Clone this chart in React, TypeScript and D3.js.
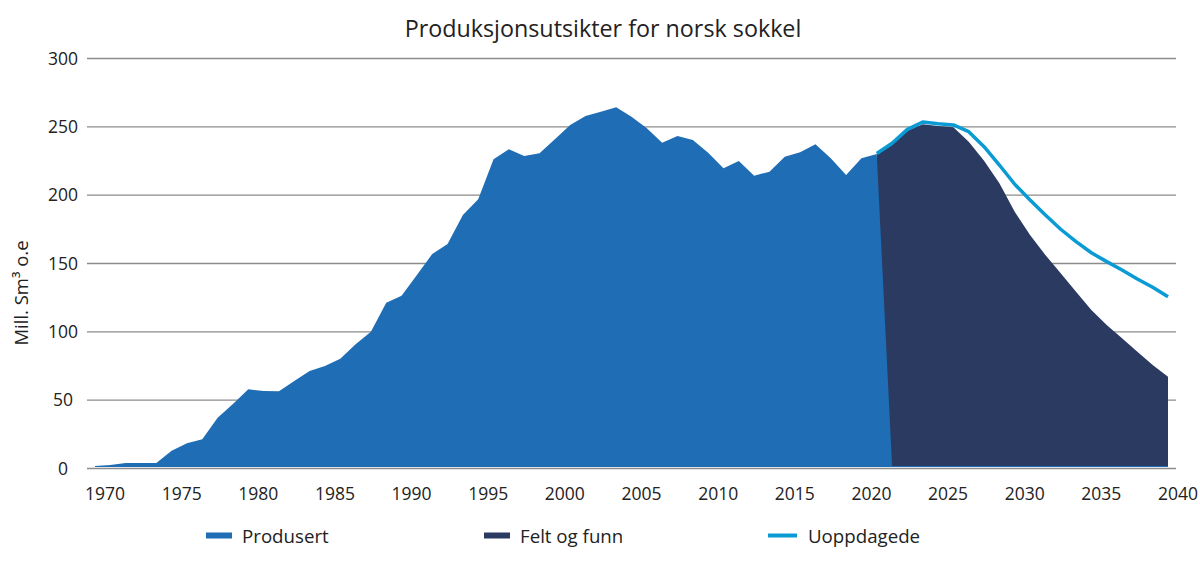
import React from "react";
import * as d3 from "d3";

const TITLE = "Produksjonsutsikter for norsk sokkel";
const Y_TITLE = "Mill. Sm³ o.e";
const X_TICKS = [1970, 1975, 1980, 1985, 1990, 1995, 2000, 2005, 2010, 2015, 2020, 2025, 2030, 2035, 2040];
const Y_TICKS = [0, 50, 100, 150, 200, 250, 300];
const SERIES_NAMES = ["Produsert", "Felt og funn", "Uoppdagede"];
const COLORS = ["#1F6DB5", "#2B3A61", "#0A9BD5"];

// Produsert 1970–2022
const PRODUCED_START = 1970;
const producedValues = [
  0.4, 1.1, 2.6, 2.6, 2.6, 11.6, 17.0, 19.9, 35.7, 45.7,
  56.5, 55.2, 55.0, 62.6, 69.9, 73.5, 78.9, 89.4, 98.6, 119.9,
  125.0, 140.1, 155.5, 162.8, 184.0, 195.5, 224.8, 232.1, 227.2, 229.2,
  239.4, 249.9, 256.5, 259.6, 262.8, 256.0, 247.5, 236.9, 241.8, 238.9,
  229.6, 218.2, 223.5, 212.8, 215.7, 226.7, 229.9, 235.8, 225.5, 213.3,
  225.5, 228.7, 0,
];

// Felt og funn 2021–2040
const FORECAST_START = 2021;
const feltOgFunnValues = [
  228.7, 235.2, 245.7, 250.4, 249.2, 248.2, 237.7, 223.8, 207.2, 186.4,
  169.4, 154.8, 141.4, 127.9, 114.5, 103.5, 93.8, 84.0, 74.3, 65.7,
];

// Uoppdagede (total incl. undiscovered) 2021–2040
const uoppdagedeValues = [
  229.0, 236.5, 246.7, 252.1, 250.8, 249.9, 245.0, 234.0, 220.6, 206.5,
  195.0, 184.0, 173.6, 164.5, 156.4, 149.9, 143.8, 137.2, 131.1, 124.2,
];

const W = 1200;
const H = 562;
const FONT = "'Open Sans', 'Noto Sans', sans-serif";

export default function App() {
  const x = d3.scaleLinear().domain([1970, 2040]).range([95, 1168]);
  const y = d3.scaleLinear().domain([0, 300]).range([468.5, 58.5]);

  const produced = producedValues.map((v, i) => ({ year: PRODUCED_START + i, v }));
  const felt = feltOgFunnValues.map((v, i) => ({ year: FORECAST_START + i, v }));
  const total = uoppdagedeValues.map((v, i) => ({ year: FORECAST_START + i, v }));

  const area = d3
    .area<{ year: number; v: number }>()
    .x((d) => x(d.year))
    .y0(y(0))
    .y1((d) => y(d.v));
  const line = d3
    .line<{ year: number; v: number }>()
    .x((d) => x(d.year))
    .y((d) => y(d.v));

  const gridX0 = 87;
  const gridX1 = 1176;

  return (
    <svg
      width={W}
      height={H}
      style={{ position: "absolute", left: 0, top: 0, display: "block", background: "#fff" }}
      fontFamily={FONT}
    >
      <text x={603} y={37} textAnchor="middle" fontSize={23.3} fill="#222">
        {TITLE}
      </text>

      {Y_TICKS.map((t) => (
        <g key={t}>
          <line x1={gridX0} x2={gridX1} y1={y(t)} y2={y(t)} stroke="#8C8C8C" strokeWidth={1.3} />
          <text x={63} y={y(t) - 1} textAnchor="middle" dominantBaseline="central" fontSize={17.5} fill="#222">
            {t}
          </text>
        </g>
      ))}

      <text
        transform={`translate(20,${293}) rotate(-90)`}
        textAnchor="middle"
        dominantBaseline="central"
        fontSize={18.5}
        fill="#222"
      >
        {Y_TITLE}
      </text>

      <g transform="translate(0,-2)">
        <path d={area(felt) || ""} fill={COLORS[1]} />
        <path d={area(produced) || ""} fill={COLORS[0]} />
        <line x1={x(1970)} x2={x(2040)} y1={y(0)} y2={y(0)} stroke={COLORS[0]} strokeWidth={1.2} />
        <path d={line(total) || ""} fill="none" stroke={COLORS[2]} strokeWidth={3.5} strokeLinejoin="round" />
      </g>

      {X_TICKS.map((t) => (
        <text key={t} x={x(t) + 10} y={500} textAnchor="middle" fontSize={17.5} fill="#222">
          {t}
        </text>
      ))}

      {/* legend */}
      <g fontSize={18.7} fill="#222">
        <rect x={206} y={532.5} width={26} height={6} fill={COLORS[0]} />
        <text x={242} y={535} dominantBaseline="central">{SERIES_NAMES[0]}</text>
        <rect x={484} y={532.5} width={26} height={6} fill={COLORS[1]} />
        <text x={520} y={535} dominantBaseline="central">{SERIES_NAMES[1]}</text>
        <line x1={768} x2={797} y1={535.5} y2={535.5} stroke={COLORS[2]} strokeWidth={4} />
        <text x={808} y={535} dominantBaseline="central">{SERIES_NAMES[2]}</text>
      </g>
    </svg>
  );
}
